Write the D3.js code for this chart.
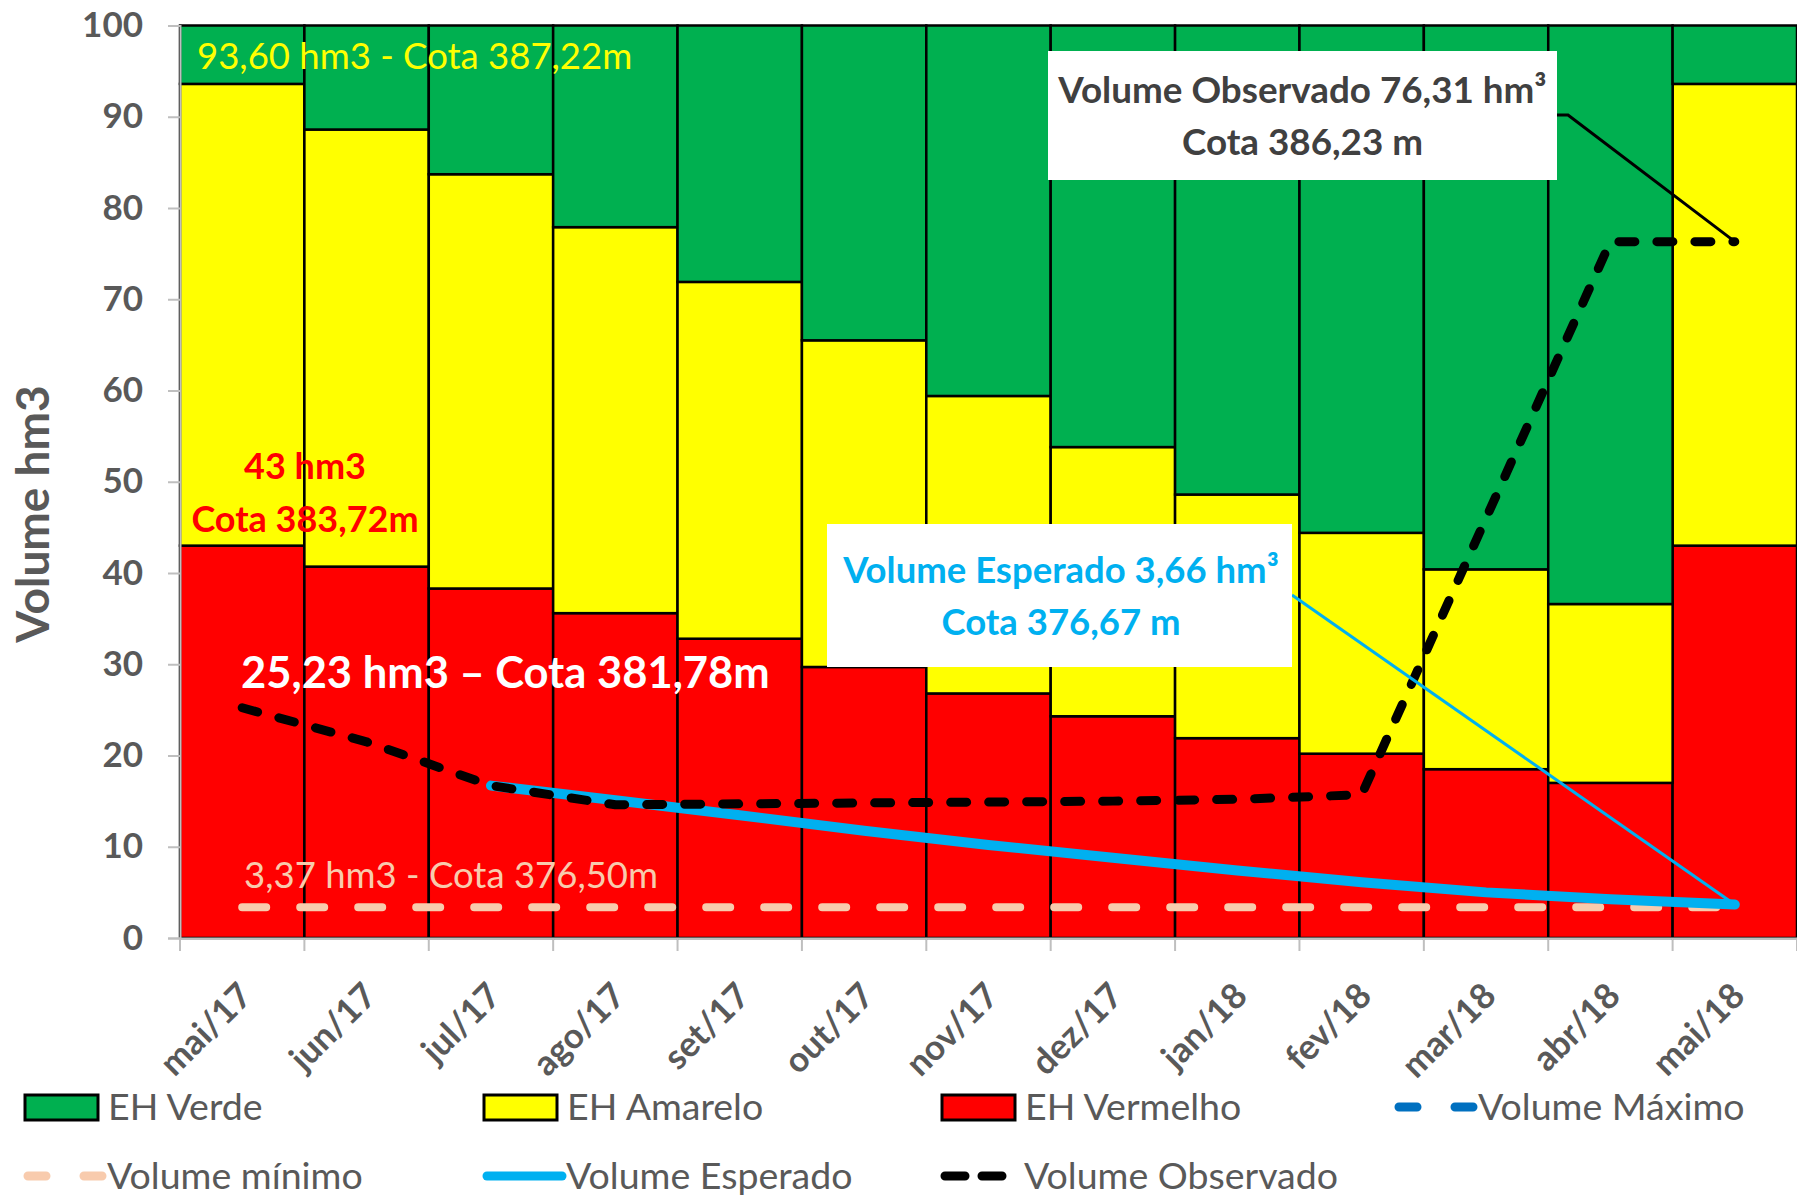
<!DOCTYPE html>
<html>
<head>
<meta charset="utf-8">
<script src="https://cdn.jsdelivr.net/npm/d3@7"></script>
<style>
  body { margin: 0; background: #fff; }
  text { font-family: Lato, "Open Sans", sans-serif; }
</style>
</head>
<body>
<script>
// Months on the x axis
var months = ["mai/17", "jun/17", "jul/17", "ago/17", "set/17", "out/17", "nov/17",
              "dez/17", "jan/18", "fev/18", "mar/18", "abr/18", "mai/18"];

// Stacked zones (hm3) - thickness of each band
var vermelho = [43.0, 40.7, 38.3, 35.6, 32.8, 29.7, 26.8, 24.3, 21.9, 20.2, 18.5, 17.0, 43.0];
var amarelo  = [50.6, 47.9, 45.4, 42.3, 39.1, 35.8, 32.6, 29.5, 26.7, 24.2, 21.9, 19.6, 50.6];
var verde    = [6.4, 11.4, 16.3, 22.1, 28.1, 34.5, 40.6, 46.2, 51.4, 55.6, 59.6, 63.4, 6.4];

// Lines
var observado = [25.23, 21.5, 16.7, 14.6, 14.7, 14.8, 14.9, 15.0, 15.2, 15.7, 46.0, 76.31, 76.31];
var esperado  = [null, null, 16.7, 15.1, 13.45, 11.75, 10.2, 8.8, 7.4, 6.1, 5.0, 4.25, 3.66];
var minimo    = [3.37, 3.37, 3.37, 3.37, 3.37, 3.37, 3.37, 3.37, 3.37, 3.37, 3.37, 3.37, 3.37];

var yTicks = [0, 10, 20, 30, 40, 50, 60, 70, 80, 90, 100];

var margin = { top: 25.5, right: 0, bottom: 262, left: 180 },
    width = 1797 - margin.left - margin.right,
    height = 1200 - margin.top - margin.bottom;

var svg = d3.select("body").append("svg")
    .attr("width", 1797)
    .attr("height", 1200);

var xScale = d3.scaleBand()
    .domain(months)
    .range([margin.left, margin.left + width]);
var bw = xScale.bandwidth();

var yScale = d3.scaleLinear()
    .domain([0, 100])
    .range([margin.top + height, margin.top]);

// build the table for the stack from the arrays
var table = months.map(function (m, i) {
    return { month: m, vermelho: vermelho[i], amarelo: amarelo[i], verde: verde[i] };
});
var colors = { vermelho: "#FF0000", amarelo: "#FFFF00", verde: "#00B050" };
var series = d3.stack().keys(["vermelho", "amarelo", "verde"])(table);

svg.append("g").selectAll("g")
    .data(series)
    .enter().append("g")
    .attr("fill", function (s) { return colors[s.key]; })
    .selectAll("rect")
    .data(function (s) { return s; })
    .enter().append("rect")
    .attr("x", function (d) { return xScale(d.data.month); })
    .attr("y", function (d) { return yScale(d[1]); })
    .attr("width", bw)
    .attr("height", function (d) { return yScale(d[0]) - yScale(d[1]); })
    .attr("stroke", "#000")
    .attr("stroke-width", 2.5);

// y axis
svg.append("g")
    .attr("transform", "translate(" + margin.left + ",0)")
    .call(d3.axisLeft(yScale).tickValues(yTicks).tickSize(12).tickPadding(25))
    .call(function (g) {
        g.select(".domain").attr("stroke", "#BFBFBF").attr("stroke-width", 2);
        g.selectAll(".tick line").attr("stroke", "#BFBFBF").attr("stroke-width", 2);
        g.selectAll("text")
            .attr("fill", "#595959")
            .attr("font-size", "35px")
            .attr("font-weight", "bold")
            .attr("font-family", "Lato, sans-serif");
    });

// y axis title
svg.append("text")
    .attr("transform", "translate(49,514) rotate(-90)")
    .attr("text-anchor", "middle")
    .attr("font-size", "46px")
    .attr("font-weight", "bold")
    .attr("fill", "#595959")
    .text("Volume hm3");

// x axis: labels at band centres, ticks at band boundaries
var x0 = margin.top + height;
svg.append("g")
    .attr("transform", "translate(0," + x0 + ")")
    .call(d3.axisBottom(xScale).tickSize(0))
    .call(function (g) {
        g.select(".domain").attr("stroke", "#BFBFBF").attr("stroke-width", 2);
        g.selectAll("text")
            .attr("x", null).attr("y", null).attr("dy", null)
            .attr("text-anchor", "end")
            .attr("transform", "translate(12,60) rotate(-45)")
            .attr("fill", "#595959")
            .attr("font-size", "35px")
            .attr("font-weight", "bold")
            .attr("font-family", "Lato, sans-serif");
    });

var bounds = months.map(function (m) { return xScale(m); }).concat([xScale(months[months.length - 1]) + bw]);
svg.append("g").selectAll("line")
    .data(bounds)
    .enter().append("line")
    .attr("x1", function (d) { return d; })
    .attr("x2", function (d) { return d; })
    .attr("y1", x0)
    .attr("y2", x0 + 13)
    .attr("stroke", "#BFBFBF")
    .attr("stroke-width", 2);

// lines
var line = d3.line()
    .defined(function (d) { return d != null; })
    .x(function (d, i) { return xScale(months[i]) + bw / 2; })
    .y(function (d) { return yScale(d); });

svg.append("path")
    .datum(minimo)
    .attr("d", line)
    .attr("fill", "none")
    .attr("stroke", "#F8CBAD")
    .attr("stroke-width", 8)
    .attr("stroke-linecap", "round")
    .attr("stroke-dasharray", "24,34");

svg.append("path")
    .datum(esperado)
    .attr("d", line)
    .attr("fill", "none")
    .attr("stroke", "#00B0F0")
    .attr("stroke-width", 10)
    .attr("stroke-linejoin", "round")
    .attr("stroke-linecap", "round");

svg.append("path")
    .datum(observado)
    .attr("d", line)
    .attr("fill", "none")
    .attr("stroke", "#000")
    .attr("stroke-width", 9)
    .attr("stroke-linejoin", "round")
    .attr("stroke-linecap", "round")
    .attr("stroke-dasharray", "16,22");

// annotation labels
function label(x, y, txt, color, size, weight, anchor) {
    svg.append("text")
        .attr("x", x).attr("y", y)
        .attr("fill", color)
        .attr("font-size", size + "px")
        .attr("font-weight", weight)
        .attr("text-anchor", anchor || "start")
        .text(txt);
}

label(197, 69, "93,60 hm3 - Cota 387,22m", "#FFFF00", 36.5, "normal");
label(305, 479, "43 hm3", "#FF0000", 36, "bold", "middle");
label(305, 532, "Cota 383,72m", "#FF0000", 36, "bold", "middle");
label(241, 688, "25,23 hm3 \u2013 Cota 381,78m", "#FFFFFF", 43.5, "bold");
label(244, 888, "3,37 hm3 - Cota 376,50m", "#F8CBAD", 36.5, "normal");

// callout: observed
var last = months.length - 1;
var px = xScale(months[last]) + bw / 2;
svg.append("polyline")
    .attr("points", [[1557, 115], [1568, 115], [px, yScale(observado[last])]].join(" "))
    .attr("fill", "none")
    .attr("stroke", "#000")
    .attr("stroke-width", 3);
svg.append("rect")
    .attr("x", 1048).attr("y", 51).attr("width", 509).attr("height", 129)
    .attr("fill", "#fff");
label(1302.5, 103, "Volume Observado 76,31 hm\u00B3", "#404040", 36.8, "bold", "middle");
label(1302.5, 155, "Cota 386,23 m", "#404040", 36.8, "bold", "middle");

// callout: expected
svg.append("line")
    .attr("x1", 1292).attr("y1", 595)
    .attr("x2", px).attr("y2", yScale(esperado[last]))
    .attr("stroke", "#00B0F0")
    .attr("stroke-width", 3);
svg.append("rect")
    .attr("x", 827).attr("y", 524).attr("width", 465).attr("height", 143)
    .attr("fill", "#fff");
label(1061, 583, "Volume Esperado 3,66 hm\u00B3", "#00B0F0", 36.5, "bold", "middle");
label(1061, 635, "Cota 376,67 m", "#00B0F0", 36.5, "bold", "middle");

// legend
var legendItems = [
    { name: "EH Verde", kind: "box", color: "#00B050", x: 25, y: 1107 },
    { name: "EH Amarelo", kind: "box", color: "#FFFF00", x: 484, y: 1107 },
    { name: "EH Vermelho", kind: "box", color: "#FF0000", x: 942, y: 1107 },
    { name: "Volume M\u00E1ximo", kind: "dash", color: "#0070C0", x: 1396, y: 1107 },
    { name: "Volume m\u00EDnimo", kind: "dash", color: "#F8CBAD", x: 25, y: 1176 },
    { name: "Volume Esperado", kind: "solid", color: "#00B0F0", x: 484, y: 1176 },
    { name: "Volume Observado", kind: "dash2", color: "#000000", x: 942, y: 1176 }
];

var leg = svg.append("g").selectAll("g")
    .data(legendItems)
    .enter().append("g")
    .attr("transform", function (d) { return "translate(" + d.x + "," + d.y + ")"; });

leg.filter(function (d) { return d.kind === "box"; })
    .append("rect")
    .attr("x", 0).attr("y", -12).attr("width", 73).attr("height", 25)
    .attr("fill", function (d) { return d.color; })
    .attr("stroke", "#000")
    .attr("stroke-width", 3);

leg.filter(function (d) { return d.kind !== "box"; })
    .append("line")
    .attr("x1", 3)
    .attr("x2", function (d) { return d.kind === "dash2" ? 61 : 78; })
    .attr("y1", 0).attr("y2", 0)
    .attr("stroke", function (d) { return d.color; })
    .attr("stroke-width", 9)
    .attr("stroke-linecap", "round")
    .attr("stroke-dasharray", function (d) {
        if (d.kind === "dash") return "18,38";
        if (d.kind === "dash2") return "20,17";
        return null;
    });

leg.append("text")
    .attr("x", function (d) { return d.kind === "box" ? 83 : 82; })
    .attr("y", 13)
    .attr("fill", "#595959")
    .attr("font-size", "37.5px")
    .text(function (d) { return d.name; });
</script>
</body>
</html>
